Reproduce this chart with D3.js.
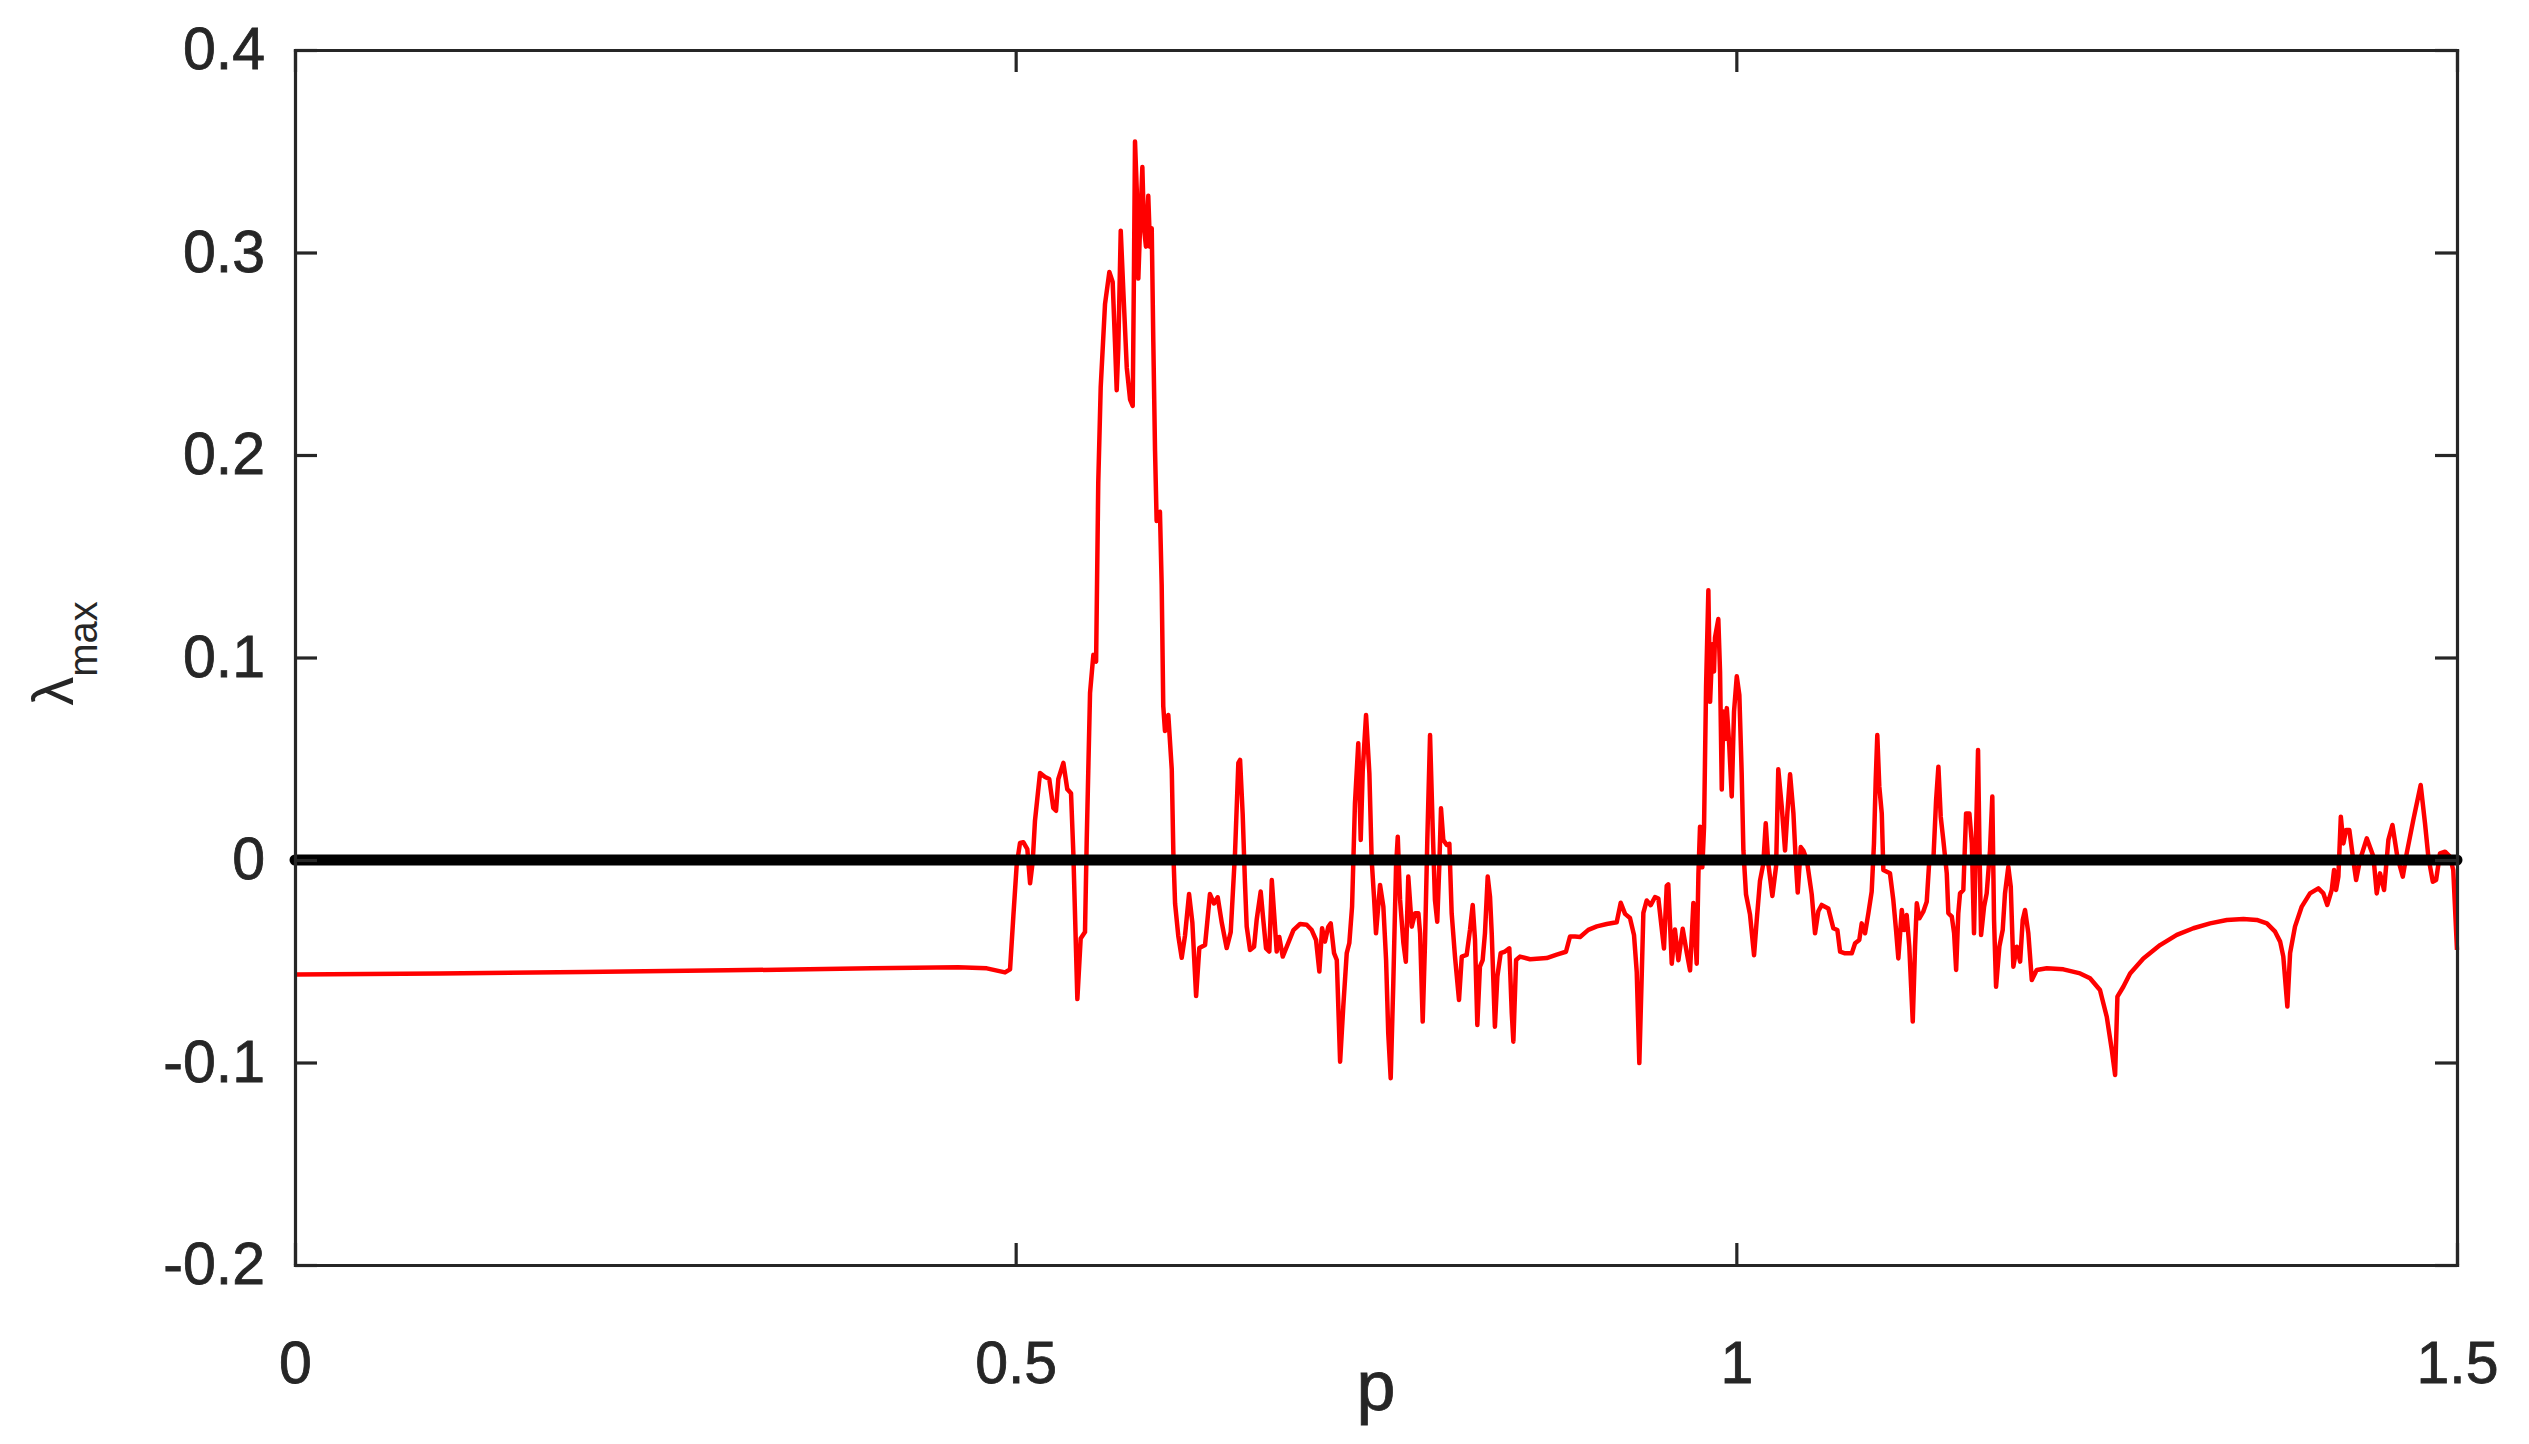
<!DOCTYPE html>
<html>
<head>
<meta charset="UTF-8" />
<title>lambda max</title>
<script src="https://d3js.org/d3.v7.min.js"></script>
<style>
  body { margin: 0; background: #fff; }
</style>
</head>
<body>
<div id="chart"></div>
<script>
// valeurs : p et exposant de Lyapunov maximal
const pValues = [
  0, 0.1, 0.2, 0.3, 0.4, 0.46, 0.48, 0.4926, 0.4961, 0.4984, 0.5007, 0.5030, 0.5053, 0.5081, 0.5100, 0.5118, 0.5134, 0.5169, 0.5204, 0.5233,
  0.5261, 0.5280, 0.5296, 0.5331, 0.5358, 0.5384, 0.5400, 0.5428, 0.5451, 0.5481, 0.5493, 0.5516, 0.5539, 0.5558, 0.5573, 0.5590, 0.5620, 0.5650, 0.5673, 0.5689,
  0.5701, 0.5712, 0.5729, 0.5747, 0.5771, 0.5794, 0.5812, 0.5821, 0.5828, 0.5840, 0.5851, 0.5863, 0.5879, 0.5890, 0.5904, 0.5920, 0.5932, 0.5944, 0.5955, 0.5967,
  0.5978, 0.6001, 0.6013, 0.6024, 0.6036, 0.6059, 0.6083, 0.6094, 0.6106, 0.6128, 0.6152, 0.6175, 0.6203, 0.6226, 0.6252, 0.6274, 0.6314, 0.6348, 0.6376, 0.6402,
  0.6430, 0.6464, 0.6492, 0.6522, 0.6545, 0.6557, 0.6575, 0.6591, 0.6603, 0.6626, 0.6654, 0.6672, 0.6700, 0.6718, 0.6737, 0.6760, 0.6777, 0.6793, 0.6811, 0.6829,
  0.6853, 0.6881, 0.6927, 0.6973, 0.7019, 0.7054, 0.7084, 0.7107, 0.7126, 0.7146, 0.7169, 0.7186, 0.7209, 0.7228, 0.7251, 0.7273, 0.7297, 0.7315, 0.7334, 0.7354,
  0.7377, 0.7394, 0.7408, 0.7431, 0.7454, 0.7470, 0.7486, 0.7500, 0.7528, 0.7551, 0.7570, 0.7585, 0.7602, 0.7620, 0.7639, 0.7651, 0.7667, 0.7690, 0.7707, 0.7724,
  0.7748, 0.7771, 0.7794, 0.7806, 0.7824, 0.7840, 0.7856, 0.7875, 0.7893, 0.7909, 0.7925, 0.7939, 0.7951, 0.7967, 0.7991, 0.8009, 0.8025, 0.8048, 0.8076, 0.8095,
  0.8129, 0.8152, 0.8171, 0.8187, 0.8203, 0.8221, 0.8240, 0.8256, 0.8275, 0.8291, 0.8303, 0.8325, 0.8342, 0.8365, 0.8395, 0.8425, 0.8442, 0.8453, 0.8472, 0.8499,
  0.8569, 0.8684, 0.8754, 0.8818, 0.8846, 0.8881, 0.8916, 0.8973, 0.9032, 0.9101, 0.9170, 0.9198, 0.9228, 0.9262, 0.9290, 0.9309, 0.9327, 0.9344, 0.9355, 0.9378,
  0.9406, 0.9436, 0.9459, 0.9482, 0.9498, 0.9517, 0.9528, 0.9552, 0.9574, 0.9598, 0.9628, 0.9656, 0.9679, 0.9702, 0.9725, 0.9737, 0.9748, 0.9764, 0.9776, 0.9790,
  0.9806, 0.9818, 0.9834, 0.9845, 0.9852, 0.9875, 0.9887, 0.9899, 0.9910, 0.9922, 0.9934, 0.9951, 0.9968, 0.9984, 1.0003, 1.0021, 1.0037, 1.0049, 1.0067, 1.0095,
  1.0123, 1.0141, 1.0164, 1.0187, 1.0204, 1.0222, 1.0250, 1.0276, 1.0291, 1.0315, 1.0338, 1.0354, 1.0373, 1.0396, 1.0412, 1.0426, 1.0447, 1.0465, 1.0489, 1.0523,
  1.0546, 1.0569, 1.0592, 1.0638, 1.0673, 1.0701, 1.0720, 1.0754, 1.0801, 1.0824, 1.0853, 1.0870, 1.0893, 1.0916, 1.0939, 1.0955, 1.0967, 1.0978, 1.0992, 1.1009,
  1.1020, 1.1044, 1.1066, 1.1089, 1.1108, 1.1124, 1.1148, 1.1164, 1.1182, 1.1200, 1.1224, 1.1240, 1.1252, 1.1270, 1.1297, 1.1321, 1.1339, 1.1367, 1.1386, 1.1402,
  1.1418, 1.1436, 1.1460, 1.1471, 1.1495, 1.1511, 1.1525, 1.1540, 1.1552, 1.1575, 1.1594, 1.1617, 1.1634, 1.1649, 1.1663, 1.1677, 1.1686, 1.1698, 1.1719, 1.1737,
  1.1760, 1.1776, 1.1788, 1.1802, 1.1825, 1.1848, 1.1864, 1.1887, 1.1904, 1.1922, 1.1946, 1.1969, 1.1987, 1.2003, 1.2026, 1.2050, 1.2084, 1.2154, 1.2269, 1.2385,
  1.2454, 1.2523, 1.2570, 1.2605, 1.2628, 1.2644, 1.2685, 1.2732, 1.2824, 1.2940, 1.3056, 1.3171, 1.3287, 1.3403, 1.3518, 1.3611, 1.3681, 1.3738, 1.3773, 1.3795,
  1.3823, 1.3842, 1.3876, 1.3923, 1.3980, 1.4038, 1.4073, 1.4100, 1.4131, 1.4147, 1.4161, 1.4177, 1.4194, 1.4212, 1.4230, 1.4253, 1.4277, 1.4300, 1.4327, 1.4374,
  1.4420, 1.4443, 1.4466, 1.4494, 1.4524, 1.4552, 1.4586, 1.4624, 1.4651, 1.4697, 1.4748, 1.4778, 1.4801, 1.4832, 1.4855, 1.4882, 1.4917, 1.4951, 1.4974, 1.5
];

const lambdaValues = [
  -0.0565, -0.056, -0.0553, -0.0545, -0.0535, -0.053, -0.0535, -0.0555, -0.054, -0.0277, -0.0025, 0.0084, 0.0088, 0.0054, -0.0115, -0.001, 0.0194, 0.043, 0.041, 0.040,
  0.0257, 0.0243, 0.040, 0.048, 0.035, 0.033, 0.0036, -0.0687, -0.0388, -0.0356, 0.0099, 0.0825, 0.1013, 0.098, 0.1863, 0.2335, 0.2746, 0.2904, 0.2855, 0.2557,
  0.232, 0.2527, 0.3108, 0.281, 0.243, 0.2273, 0.2242, 0.2934, 0.3548, 0.3313, 0.2871, 0.3123, 0.3422, 0.3123, 0.3029, 0.328, 0.3029, 0.312, 0.2557, 0.202,
  0.1674, 0.172, 0.136, 0.076, 0.0637, 0.0716, 0.0447, 0.0036, -0.0215, -0.0373, -0.0483, -0.0373, -0.0168, -0.031, -0.0672, -0.0435, -0.042, -0.0168, -0.0215, -0.0184,
  -0.031, -0.0435, -0.0356, 0.0036, 0.048, 0.0494, 0.0227, -0.0115, -0.0329, -0.0444, -0.0428, -0.0296, -0.0156, -0.0296, -0.0436, -0.0452, -0.0099, -0.0263, -0.0452, -0.038,
  -0.0477, -0.0428, -0.0346, -0.0316, -0.032, -0.0346, -0.0395, -0.0551, -0.0337, -0.0403, -0.033, -0.0313, -0.046, -0.0494, -0.0996, -0.0724, -0.046, -0.041, -0.023, 0.028,
  0.0576, 0.0099, 0.0444, 0.0716, 0.0428, 0.0, -0.0181, -0.0362, -0.0123, -0.023, -0.0494, -0.0856, -0.1078, -0.0609, -0.0033, 0.0115, -0.0197, -0.041, -0.0502, -0.0082,
  -0.0329, -0.0263, -0.0263, -0.0362, -0.0798, -0.041, 0.0099, 0.0617, 0.0165, -0.0197, -0.0305, -0.0033, 0.0255, 0.0099, 0.0074, 0.008, -0.0263, -0.0477, -0.0691, -0.0477,
  -0.0469, -0.0346, -0.0222, -0.0395, -0.0815, -0.0527, -0.0494, -0.0362, -0.0082, -0.0181, -0.0362, -0.0823, -0.0576, -0.046, -0.0452, -0.0436, -0.0757, -0.0897, -0.0494, -0.0477,
  -0.049, -0.0484, -0.0467, -0.0453, -0.0378, -0.0378, -0.038, -0.0345, -0.0328, -0.0316, -0.0307, -0.0211, -0.0266, -0.0286, -0.037, -0.0553, -0.1003, -0.056, -0.0261, -0.02,
  -0.0223, -0.0183, -0.019, -0.0336, -0.0437, -0.0128, -0.012, -0.0512, -0.0343, -0.0495, -0.034, -0.0457, -0.0545, -0.0212, -0.0512, -0.0069, 0.0164, -0.0036, 0.0164, 0.0856,
  0.1332, 0.0781, 0.1065, 0.0931, 0.1098, 0.119, 0.0931, 0.0348, 0.0733, 0.0598, 0.075, 0.0565, 0.0314, 0.0733, 0.0907, 0.0815, 0.0431, 0.0047, -0.0169, -0.027,
  -0.047, -0.0302, -0.0103, -0.0019, 0.0181, -0.0019, -0.0178, -0.003, 0.0448, 0.0264, 0.0047, 0.0231, 0.0423, 0.0231, 0.0, -0.0161, 0.0064, 0.0047, 0.0, -0.0169,
  -0.0362, -0.0253, -0.0222, -0.0239, -0.0337, -0.0346, -0.0453, -0.0461, -0.0461, -0.0411, -0.0395, -0.0313, -0.0362, -0.0263, -0.0156, 0.0082, 0.0395, 0.0617, 0.0362, 0.023,
  -0.0049, -0.0058, -0.0066, -0.0197, -0.0346, -0.0486, -0.0247, -0.0346, -0.0272, -0.0428, -0.0798, -0.0428, -0.0214, -0.0288, -0.0255, -0.0206, 0.0, 0.0, 0.0296, 0.0461,
  0.0214, 0.0099, -0.0066, -0.0263, -0.028, -0.0362, -0.0543, -0.0263, -0.0165, -0.0148, 0.023, 0.023, 0.0082, -0.0362, 0.0132, 0.0543, 0.0099, -0.037, -0.023, -0.0165,
  0.0049, 0.0313, -0.0296, -0.0626, -0.0428, -0.0346, -0.0165, -0.0033, -0.0132, -0.0527, -0.0428, -0.0502, -0.0296, -0.0247, -0.0362, -0.0593, -0.0543, -0.0535, -0.054, -0.056,
  -0.0584, -0.0642, -0.0774, -0.0938, -0.1062, -0.0675, -0.0626, -0.056, -0.0486, -0.042, -0.037, -0.0337, -0.0313, -0.0296, -0.0291, -0.0296, -0.0313, -0.0354, -0.0403, -0.0477,
  -0.0724, -0.046, -0.0329, -0.023, -0.0165, -0.014, -0.0165, -0.0222, -0.0148, -0.0049, -0.0148, -0.0082, 0.0214, 0.0082, 0.0148, 0.0148, 0.0017, -0.0099, 0.0, 0.0107,
  0.0017, -0.0165, -0.0066, -0.0148, 0.0099, 0.0173, 0.0017, -0.0082, 0.0033, 0.0198, 0.037, 0.0181, 0.0017, -0.0107, -0.0099, 0.0033, 0.0041, 0.0017, -0.0049, -0.0444
];

const xTicks = [0, 0.5, 1, 1.5];
const yTicks = [-0.2, -0.1, 0, 0.1, 0.2, 0.3, 0.4];
const zeroLine = [0, 1.5]; // droite lambda = 0

const width = 2529, height = 1444;
const margin = { top: 50, right: 72, bottom: 179, left: 295 };
const axisColor = "#262626";
const fontFamily = "'Liberation Sans', Arial, Helvetica, sans-serif";
const tickLen = 22;

const svg = d3.select("#chart")
  .append("svg")
  .attr("width", width)
  .attr("height", height)
  .style("background", "#fff");

const x = d3.scaleLinear().domain([0, 1.5]).range([margin.left, width - margin.right]);
const y = d3.scaleLinear().domain([-0.2, 0.4]).range([height - margin.bottom, margin.top]);

// courbe rouge
const line = d3.line()
  .x(i => x(pValues[i]))
  .y(i => y(lambdaValues[i]));

svg.append("path")
  .datum(d3.range(pValues.length))
  .attr("d", line)
  .attr("fill", "none")
  .attr("stroke", "#ff0000")
  .attr("stroke-width", 4.5)
  .attr("stroke-linejoin", "round");

// ligne noire en 0
svg.append("line")
  .attr("x1", x(zeroLine[0]))
  .attr("x2", x(zeroLine[1]))
  .attr("y1", y(0))
  .attr("y2", y(0))
  .attr("stroke", "#000")
  .attr("stroke-width", 11)
  .attr("stroke-linecap", "round");

function styleAxis(g) {
  g.attr("font-size", 59).attr("font-family", fontFamily);
  g.select(".domain").attr("stroke", axisColor).attr("stroke-width", 3.2).attr("stroke-linecap", "square");
  g.selectAll(".tick line").attr("stroke", axisColor).attr("stroke-width", 3.2);
  g.selectAll(".tick text").attr("fill", axisColor).attr("stroke", axisColor).attr("stroke-width", 0.8);
}

svg.append("g")
  .attr("transform", "translate(" + margin.left + ",0)")
  .call(d3.axisLeft(y).tickValues(yTicks).tickFormat(d => String(d))
    .tickSizeInner(-tickLen).tickSizeOuter(0).tickPadding(30))
  .call(styleAxis);

svg.append("g")
  .attr("transform", "translate(" + (width - margin.right) + ",0)")
  .call(d3.axisRight(y).tickValues(yTicks).tickFormat(() => "")
    .tickSizeInner(-tickLen).tickSizeOuter(0))
  .call(styleAxis);

svg.append("g")
  .attr("transform", "translate(0," + (height - margin.bottom) + ")")
  .call(d3.axisBottom(x).tickValues(xTicks).tickFormat(d => String(d))
    .tickSizeInner(-tickLen).tickSizeOuter(0).tickPadding(76))
  .call(styleAxis);

svg.append("g")
  .attr("transform", "translate(0," + margin.top + ")")
  .call(d3.axisTop(x).tickValues(xTicks).tickFormat(() => "")
    .tickSizeInner(-tickLen).tickSizeOuter(0))
  .call(styleAxis);

// titres des axes
svg.append("text")
  .attr("x", (margin.left + width - margin.right) / 2)
  .attr("y", 1410)
  .attr("text-anchor", "middle")
  .attr("font-family", fontFamily)
  .attr("font-size", 70)
  .attr("fill", axisColor)
  .attr("stroke", axisColor)
  .attr("stroke-width", 0.8)
  .text("p");

const ylab = svg.append("text")
  .attr("transform", "translate(73," + ((margin.top + height - margin.bottom) / 2 - 4) + ") rotate(-90)")
  .attr("text-anchor", "middle")
  .attr("font-family", fontFamily)
  .attr("fill", axisColor);
ylab.append("tspan").attr("font-size", 58).text("λ");
ylab.append("tspan").attr("font-size", 40).attr("dy", 24).text("max");
</script>
</body>
</html>
